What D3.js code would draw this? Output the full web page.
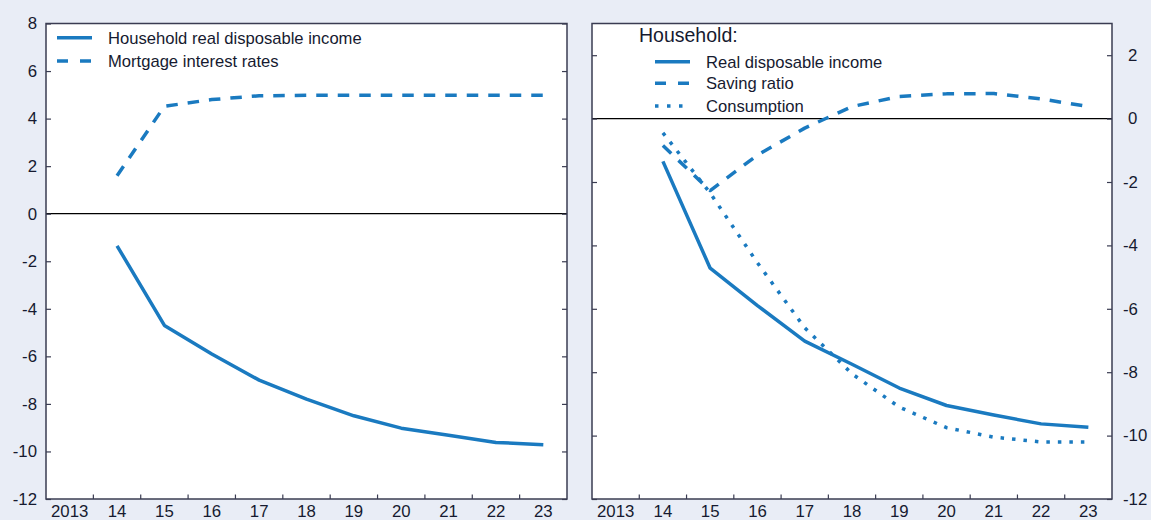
<!DOCTYPE html>
<html>
<head>
<meta charset="utf-8">
<script src="https://cdn.jsdelivr.net/npm/d3@7"></script>
<style>
  html, body { margin: 0; padding: 0; background: #e9edf6; }
  svg { display: block; }
  text { font-family: "Liberation Sans", Arial, sans-serif; fill: #161a30; }
</style>
</head>
<body>
<svg id="chart" width="1151" height="520"></svg>
<script>
// categories on the x axis
var years = ["2013", "14", "15", "16", "17", "18", "19", "20", "21", "22", "23"];
var dataYears = ["14", "15", "16", "17", "18", "19", "20", "21", "22", "23"];

// left panel
var incomeLeft = [-1.35, -4.7, -5.9, -7.0, -7.8, -8.5, -9.02, -9.32, -9.62, -9.72];
var mortgage = [1.6, 4.52, 4.8, 4.96, 4.98, 4.98, 4.98, 4.98, 4.98, 4.98];
var leftTicks = [-12, -10, -8, -6, -4, -2, 0, 2, 4, 6, 8];

// right panel
var incomeRight = [-1.35, -4.72, -5.9, -7.02, -7.75, -8.5, -9.05, -9.35, -9.63, -9.74];
var saving = [-0.85, -2.27, -1.15, -0.3, 0.38, 0.7, 0.78, 0.79, 0.62, 0.38];
var consumption = [-0.45, -2.35, -4.55, -6.6, -8.05, -9.1, -9.75, -10.05, -10.2, -10.2];
var rightTicks = [-12, -10, -8, -6, -4, -2, 0, 2];

var blue = "#1a7ac0";
var svg = d3.select("#chart");
var top_ = 23.5, bottom = 499;

function zip(vals) {
  return dataYears.map(function(y, i) { return {year: y, v: vals[i]}; });
}

function panel(x0, x1, yDomain, ticks, labelSide) {
  var x = d3.scaleBand().domain(years).range([x0, x1]);
  var y = d3.scaleLinear().domain(yDomain).range([bottom, top_]);
  var g = svg.append("g");

  g.append("rect")
    .attr("x", x0).attr("y", top_)
    .attr("width", x1 - x0).attr("height", bottom - top_)
    .attr("fill", "#fff");

  // zero line
  g.append("line")
    .attr("x1", x0).attr("x2", x1)
    .attr("y1", y(0)).attr("y2", y(0))
    .attr("stroke", "#000").attr("stroke-width", 1.3);

  // year boundary ticks
  g.selectAll(".xt").data(years.slice(1)).join("line")
    .attr("x1", d => x(d)).attr("x2", d => x(d))
    .attr("y1", bottom).attr("y2", bottom - 4.5)
    .attr("stroke", "#3a3c52").attr("stroke-width", 1.2);

  var xa = g.append("g").attr("transform", "translate(0," + bottom + ")")
    .call(d3.axisBottom(x).tickSize(0).tickPadding(6.2));
  xa.select(".domain").remove();
  xa.selectAll("text").style("font-size", "16.8px").style("fill", "#161a30");

  var yl = g.append("g").attr("transform", "translate(" + x0 + ",0)")
    .call(d3.axisLeft(y).tickValues(ticks).tickSize(-5).tickPadding(9)
      .tickFormat(labelSide === "left" ? (d => String(d)) : ""));
  var yr = g.append("g").attr("transform", "translate(" + x1 + ",0)")
    .call(d3.axisRight(y).tickValues(ticks).tickSize(-5).tickPadding(16)
      .tickFormat(labelSide === "right" ? (d => String(d)) : ""));
  [yl, yr].forEach(function(a) {
    a.select(".domain").remove();
    a.selectAll("line").attr("stroke", "#3a3c52").attr("stroke-width", 1.2);
    a.selectAll("text").style("font-size", "16.8px").style("fill", "#161a30");
  });
  // hanging minus on right labels
  yr.selectAll("text").attr("x", d => d < 0 ? 11 : 16);

  g.append("rect")
    .attr("x", x0).attr("y", top_)
    .attr("width", x1 - x0).attr("height", bottom - top_)
    .attr("fill", "none").attr("stroke", "#3a3c52").attr("stroke-width", 1.5);

  var line = d3.line()
    .x(d => x(d.year) + x.bandwidth() / 2)
    .y(d => y(d.v));

  return {g: g, line: line};
}

function drawSeries(p, vals, dash) {
  p.g.append("path")
    .datum(zip(vals))
    .attr("d", p.line)
    .attr("fill", "none")
    .attr("stroke", blue)
    .attr("stroke-width", 3.5)
    .attr("stroke-dasharray", dash)
    .attr("stroke-linejoin", "round");
}

function legendRow(x, y, label, dash) {
  svg.append("line")
    .attr("x1", x).attr("x2", x + 35)
    .attr("y1", y).attr("y2", y)
    .attr("stroke", blue).attr("stroke-width", 3.5)
    .attr("stroke-dasharray", dash);
  svg.append("text")
    .attr("x", x + 51).attr("y", y).attr("dy", "0.35em")
    .style("font-size", "16.6px")
    .text(label);
}

var left = panel(46, 567, [-12, 8], leftTicks, "left");
drawSeries(left, mortgage, "11.5,10");
drawSeries(left, incomeLeft, null);

var right = panel(592, 1112, [-12, 3], rightTicks, "right");
drawSeries(right, saving, "11.5,10");
drawSeries(right, consumption, "3.5,8");
drawSeries(right, incomeRight, null);

legendRow(57, 37.7, "Household real disposable income", null);
legendRow(57, 61, "Mortgage interest rates", "11,12");

svg.append("text")
  .attr("x", 639).attr("y", 35).attr("dy", "0.35em")
  .style("font-size", "19.5px")
  .text("Household:");
legendRow(655, 61.7, "Real disposable income", null);
legendRow(655, 83.3, "Saving ratio", "11,12");
legendRow(655, 106, "Consumption", "3.5,8.5");
</script>
</body>
</html>
